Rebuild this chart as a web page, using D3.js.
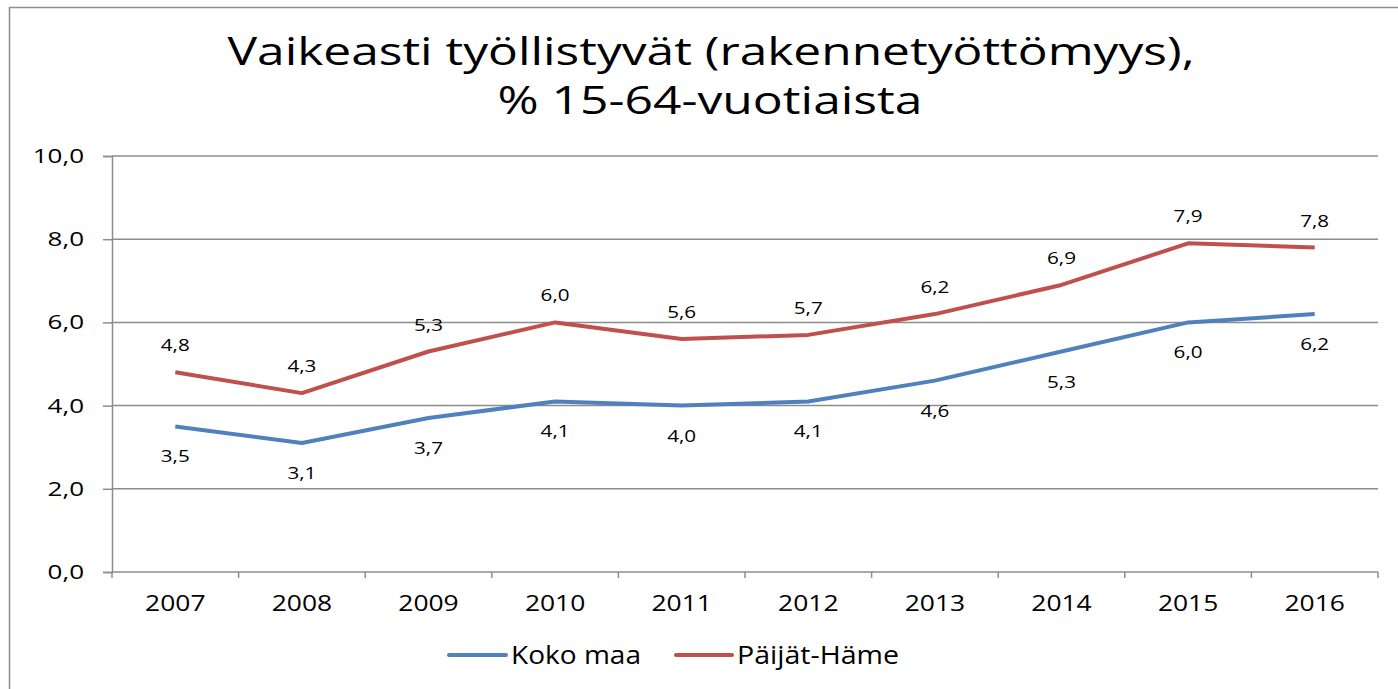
<!DOCTYPE html>
<html>
<head>
<meta charset="utf-8">
<script src="https://cdn.jsdelivr.net/npm/d3@7"></script>
<style>
  body { margin: 0; background: #fff; }
  svg { display: block; font-family: "Open Sans", sans-serif; }
</style>
</head>
<body>
<script>
const years = ["2007", "2008", "2009", "2010", "2011", "2012", "2013", "2014", "2015", "2016"];
const kokoMaa = [3.5, 3.1, 3.7, 4.1, 4.0, 4.1, 4.6, 5.3, 6.0, 6.2];
const paijatHame = [4.8, 4.3, 5.3, 6.0, 5.6, 5.7, 6.2, 6.9, 7.9, 7.8];
const yTicks = [0, 2, 4, 6, 8, 10];
const seriesNames = ["Koko maa", "Päijät-Häme"];
const titleLines = ["Vaikeasti työllistyvät (rakennetyöttömyys),", "% 15-64-vuotiaista"];

const width = 1398, height = 689;
const colors = ["#4F81BD", "#C0504D"];
const fmt = v => d3.format(".1f")(v).replace(".", ",");

// widen text a bit, the original font is broader than Open Sans
function stretch(sel, k) {
    sel.each(function() {
        const w = this.getComputedTextLength();
        d3.select(this)
            .attr("textLength", w * k)
            .attr("lengthAdjust", "spacingAndGlyphs");
    });
}

const svg = d3.select("body").append("svg")
    .attr("width", width)
    .attr("height", height);

// outer frame
svg.append("rect")
    .attr("x", 9.5).attr("y", 7.5)
    .attr("width", 1420).attr("height", 720)
    .attr("fill", "none")
    .attr("stroke", "#8c8c8c")
    .attr("stroke-width", 1.5);

const x = d3.scaleBand()
    .domain(years)
    .range([112, 1378]);

const y = d3.scaleLinear()
    .domain([0, 10])
    .range([572, 156]);

// title
svg.append("text")
    .attr("x", 711).attr("y", 65)
    .attr("text-anchor", "middle")
    .attr("font-size", 38)
    .attr("textLength", 967)
    .attr("lengthAdjust", "spacingAndGlyphs")
    .text(titleLines[0]);
svg.append("text")
    .attr("x", 710).attr("y", 114)
    .attr("text-anchor", "middle")
    .attr("font-size", 38)
    .attr("textLength", 425)
    .attr("lengthAdjust", "spacingAndGlyphs")
    .text(titleLines[1]);

// gridlines
svg.append("g")
    .selectAll("line")
    .data(yTicks.filter(d => d > 0))
    .join("line")
    .attr("x1", 112).attr("x2", 1378)
    .attr("y1", d => y(d)).attr("y2", d => y(d))
    .attr("stroke", "#8c8c8c")
    .attr("stroke-width", 1.5);

// y axis
const yAxis = svg.append("g")
    .attr("transform", "translate(112,0)")
    .call(d3.axisLeft(y).tickValues(yTicks).tickFormat(fmt).tickSize(9).tickPadding(19));
yAxis.select(".domain").attr("stroke", "#8c8c8c").attr("stroke-width", 1.5);
yAxis.selectAll(".tick line").attr("stroke", "#8c8c8c").attr("stroke-width", 1.5);
yAxis.selectAll(".tick text")
    .attr("font-family", "Open Sans, sans-serif")
    .attr("font-size", 20)
    .attr("fill", "#000")
    .call(stretch, 1.3);

// x axis: ticks between categories
const xAxis = svg.append("g")
    .attr("transform", "translate(0,572)");
xAxis.append("line")
    .attr("x1", 112).attr("x2", 1378)
    .attr("stroke", "#8c8c8c").attr("stroke-width", 1.5);
const bounds = years.map(d => x(d)).concat([x(years[years.length - 1]) + x.bandwidth()]);
xAxis.selectAll("line.tk")
    .data(bounds)
    .join("line")
    .attr("class", "tk")
    .attr("x1", d => d).attr("x2", d => d)
    .attr("y1", 0).attr("y2", 6)
    .attr("stroke", "#8c8c8c").attr("stroke-width", 1.5);
xAxis.selectAll("text")
    .data(years)
    .join("text")
    .attr("x", d => x(d) + x.bandwidth() / 2)
    .attr("y", 39)
    .attr("text-anchor", "middle")
    .attr("font-size", 22)
    .text(d => d)
    .call(stretch, 1.2);

// lines and labels
const allSeries = [kokoMaa, paijatHame];
const line = d3.line()
    .x((d, i) => x(years[i]) + x.bandwidth() / 2)
    .y(d => y(d));

allSeries.forEach((vals, s) => {
    svg.append("path")
        .datum(vals)
        .attr("d", line)
        .attr("fill", "none")
        .attr("stroke", colors[s])
        .attr("stroke-width", 4)
        .attr("stroke-linejoin", "round");

    svg.append("g")
        .selectAll("text")
        .data(vals)
        .join("text")
        .attr("x", (d, i) => x(years[i]) + x.bandwidth() / 2)
        .attr("y", d => s === 0 ? y(d) + 36 : y(d) - 21)
        .attr("text-anchor", "middle")
        .attr("font-size", 16.5)
        .text(fmt)
        .call(stretch, 1.25);
});

// legend
const legend = [
    { x1: 449, x2: 506, tx: 511, tw: 130 },
    { x1: 676, x2: 732, tx: 737, tw: 162 }
];
legend.forEach((l, i) => {
    svg.append("line")
        .attr("x1", l.x1).attr("x2", l.x2)
        .attr("y1", 655).attr("y2", 655)
        .attr("stroke", colors[i])
        .attr("stroke-width", 4)
        .attr("stroke-linecap", "round");
    svg.append("text")
        .attr("x", l.tx).attr("y", 664)
        .attr("font-size", 25)
        .attr("textLength", l.tw)
        .attr("lengthAdjust", "spacingAndGlyphs")
        .text(seriesNames[i]);
});
</script>
</body>
</html>
